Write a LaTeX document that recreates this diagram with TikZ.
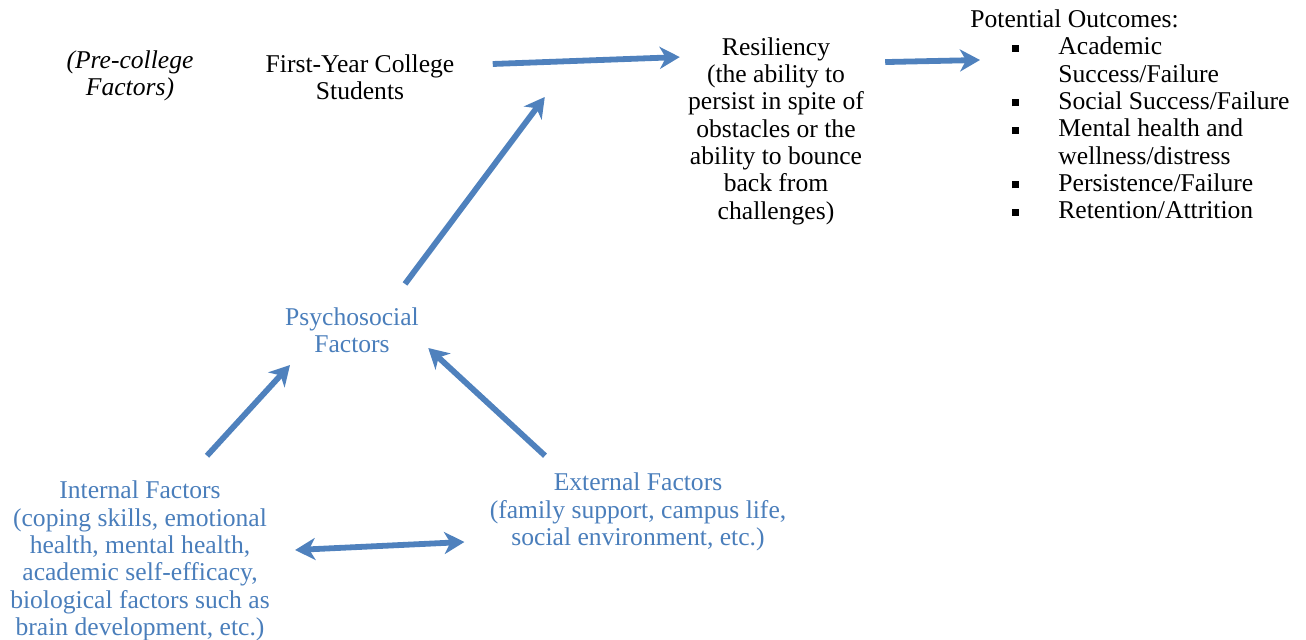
\documentclass[tikz,border=0pt]{standalone}
\usepackage{fontspec}
\setmainfont{Liberation Serif}
\usetikzlibrary{arrows.meta}
\definecolor{arrowblue}{RGB}{79,129,189}
\definecolor{textblue}{RGB}{74,126,187}
\newcommand{\diagfont}{\fontsize{12.8}{13.65}\selectfont}
\newcommand{\bul}{\rule[1.5pt]{3.5pt}{3.5pt}}

\begin{document}
\begin{tikzpicture}[x=0.5pt,y=-0.5pt,
    >={Stealth[length=10pt,width=11pt,inset=3pt]},
    txt/.style={align=center,inner sep=0pt,font=\diagfont},
    factor/.style={txt,text=textblue},
    flow/.style={arrowblue,line width=2.9pt,->}]
    \useasboundingbox (0,0) rectangle (1306,640);
    % top row
    \node[txt,font={\diagfont\itshape}] (pre) at (130,76) {(Pre-college\\Factors)};
    \node[txt] (fyc) at (360,77) {First-Year College\\Students};
    \node[txt] (res) at (776,131) {Resiliency\\(the ability to\\persist in spite of\\obstacles or the\\ability to bounce\\back from\\challenges)};
    \node[txt,anchor=north west] (out) at (970,8) {%
        \begin{tabular}[t]{@{\hspace{21pt}}l@{\hspace{19.5pt}}l@{}}
        \multicolumn{2}{@{}l@{}}{Potential Outcomes:}\\
        \bul & Academic\\
             & Success/Failure\\
        \bul & Social Success/Failure\\
        \bul & Mental health and\\
             & wellness/distress\\
        \bul & Persistence/Failure\\
        \bul & Retention/Attrition
        \end{tabular}};
    % factors
    \node[factor] (psy) at (352,330) {Psychosocial\\Factors};
    \node[factor] (int) at (140,561) {Internal Factors\\(coping skills, emotional\\health, mental health,\\academic self-efficacy,\\biological factors such as\\brain development, etc.)};
    \node[factor] (ext) at (638,512) {External Factors\\(family support, campus life,\\social environment, etc.)};
    % arrows
    \draw[flow] ([shift={(38,-13)}]fyc.east) -- ([shift={(-8,20)}]res.north west);
    \draw[flow] ([shift={(21,25)}]res.north east) -- ([shift={(10,52)}]out.north west);
    \draw[flow] ([shift={(53,-23)}]psy.north) -- ([shift={(-143,-34)}]res.west);
    \draw[flow] ([shift={(67,-25)}]int.north) -- ([shift={(-62,12)}]psy.south);
    \draw[flow] ([shift={(-93,-17)}]ext.north) -- ([shift={(9,18)}]psy.east);
    \draw[flow,<->] ([shift={(25,-11)}]int.east) -- ([shift={(-25,30)}]ext.west);
\end{tikzpicture}
\end{document}
